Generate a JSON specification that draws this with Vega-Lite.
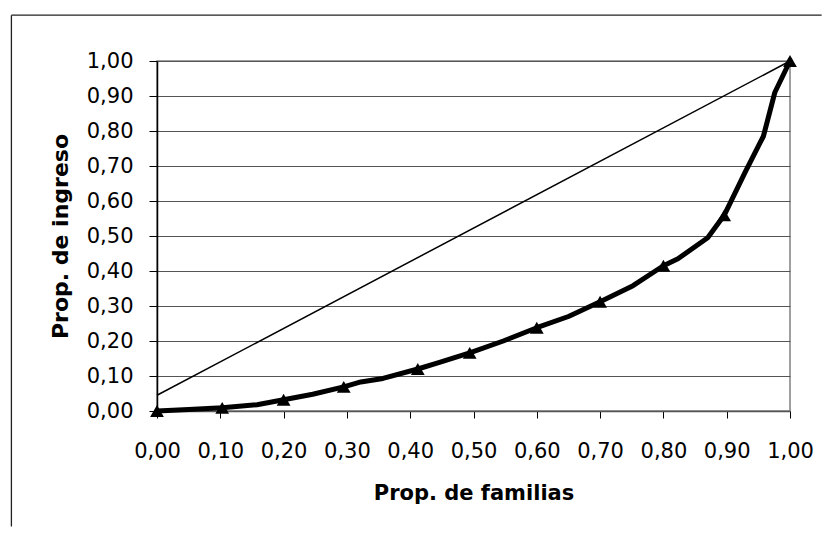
{
  "$schema": "https://vega.github.io/schema/vega-lite/v6.json",
  "autosize": {"type": "none"},
  "width": 633,
  "height": 350,
  "padding": {"left": 157, "top": 61, "right": 40, "bottom": 126},
  "background": "white",
  "config": {
    "view": {"stroke": "#808080", "strokeWidth": 1.5},
    "font": "DejaVu Sans",
    "axis": {
      "labelFont": "DejaVu Sans",
      "labelFontSize": 21,
      "labelColor": "#000",
      "titleFont": "DejaVu Sans",
      "titleFontSize": 21,
      "titleFontWeight": "bold",
      "titleColor": "#000",
      "domainColor": "#000",
      "tickColor": "#000",
      "gridColor": "#555",
      "gridOpacity": 1,
      "labelOverlap": false
    }
  },
  "datasets": {
    "lorenz": [
      {"fam": 0, "ing": 0},
      {"fam": 0.05, "ing": 0.004},
      {"fam": 0.103, "ing": 0.009},
      {"fam": 0.158, "ing": 0.018},
      {"fam": 0.2, "ing": 0.032},
      {"fam": 0.246, "ing": 0.048},
      {"fam": 0.295, "ing": 0.069},
      {"fam": 0.322, "ing": 0.083},
      {"fam": 0.357, "ing": 0.093},
      {"fam": 0.412, "ing": 0.12},
      {"fam": 0.445, "ing": 0.138},
      {"fam": 0.494, "ing": 0.166},
      {"fam": 0.547, "ing": 0.2},
      {"fam": 0.6, "ing": 0.238},
      {"fam": 0.65, "ing": 0.27},
      {"fam": 0.7, "ing": 0.312},
      {"fam": 0.752, "ing": 0.358},
      {"fam": 0.8, "ing": 0.415},
      {"fam": 0.823, "ing": 0.435},
      {"fam": 0.87, "ing": 0.495},
      {"fam": 0.896, "ing": 0.559},
      {"fam": 0.929, "ing": 0.682},
      {"fam": 0.958, "ing": 0.785},
      {"fam": 0.976, "ing": 0.91},
      {"fam": 1, "ing": 1}
    ],
    "deciles": [
      {"fam": 0, "ing": 0},
      {"fam": 0.103, "ing": 0.009},
      {"fam": 0.2, "ing": 0.032},
      {"fam": 0.295, "ing": 0.069},
      {"fam": 0.412, "ing": 0.12},
      {"fam": 0.494, "ing": 0.166},
      {"fam": 0.6, "ing": 0.238},
      {"fam": 0.7, "ing": 0.312},
      {"fam": 0.8, "ing": 0.415},
      {"fam": 0.896, "ing": 0.559},
      {"fam": 1, "ing": 1}
    ],
    "diag": [
      {"fam": 0, "ing": 0.045},
      {"fam": 1, "ing": 1}
    ]
  },
  "layer": [
    {
      "data": {"name": "diag"},
      "mark": {"type": "line", "color": "#000", "strokeWidth": 1.5},
      "encoding": {
        "x": {
          "field": "fam", "type": "quantitative",
          "scale": {"domain": [0, 1], "nice": false, "zero": false},
          "axis": {
            "title": "Prop. de familias",
            "values": [0, 0.1, 0.2, 0.3, 0.4, 0.5, 0.6, 0.7, 0.8, 0.9, 1],
            "tickCount": 20,
            "labelExpr": "replace(format(datum.value, '.2f'), '.', ',')",
            "grid": false,
            "tickSize": 7,
            "labelPadding": 22,
            "titlePadding": 21,
            "domainColor": "#555",
            "domainWidth": 1.5,
            "labelFlush": false
          }
        },
        "y": {
          "field": "ing", "type": "quantitative",
          "scale": {"domain": [0, 1], "nice": false, "zero": false},
          "axis": {
            "title": "Prop. de ingreso",
            "titleFontSize": 22,
            "values": [0, 0.1, 0.2, 0.3, 0.4, 0.5, 0.6, 0.7, 0.8, 0.9, 1],
            "tickCount": 20,
            "labelExpr": "replace(format(datum.value, '.2f'), '.', ',')",
            "grid": true,
            "tickSize": 8,
            "labelPadding": 16,
            "titlePadding": 14,
            "domainWidth": 1.5,
            "labelFlush": false,
            "labelOverlap": false
          }
        }
      }
    },
    {
      "data": {"name": "lorenz"},
      "mark": {"type": "line", "color": "#000", "strokeWidth": 5, "strokeJoin": "round", "strokeCap": "round"},
      "encoding": {
        "x": {"field": "fam", "type": "quantitative"},
        "y": {"field": "ing", "type": "quantitative"}
      }
    },
    {
      "data": {"name": "deciles"},
      "mark": {"type": "point", "shape": "triangle-up", "filled": true, "color": "#000", "opacity": 1, "size": 190},
      "encoding": {
        "x": {"field": "fam", "type": "quantitative"},
        "y": {"field": "ing", "type": "quantitative"}
      }
    },
    {
      "data": {"values": [{}]},
      "mark": {"type": "rule", "stroke": "#222", "strokeWidth": 1.3, "clip": false},
      "encoding": {
        "x": {"datum": -0.23},
        "y": {"datum": -0.33},
        "y2": {"datum": 1.131}
      }
    },
    {
      "data": {"values": [{}]},
      "mark": {"type": "rule", "stroke": "#222", "strokeWidth": 1.3, "clip": false},
      "encoding": {
        "y": {"datum": 1.131},
        "x": {"datum": -0.23},
        "x2": {"datum": 1.05}
      }
    }
  ]
}
